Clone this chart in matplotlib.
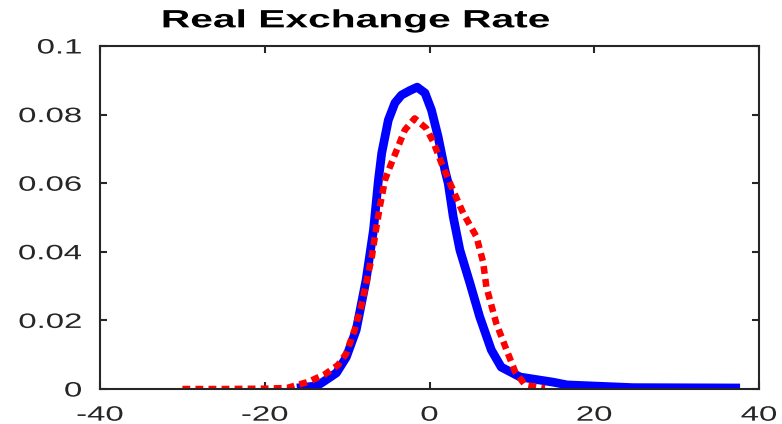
import numpy as np
import matplotlib.pyplot as plt
from matplotlib.patheffects import AbstractPathEffect
from matplotlib.transforms import Affine2D

# kernel density estimates, x in percent
blue_x = [-16.1, -13.7, -12.9, -11.3, -10.1, -8.9, -7.7, -6.8, -6.2, -5.8, -5.0,
          -4.2, -3.4, -2.4, -1.5, -0.55, 0.24, 1.05, 1.87, 2.27, 2.88, 3.69, 4.9,
          6.1, 7.5, 8.7, 11.0, 15.0, 16.7, 24.7, 37.7]
blue_y = [0.0003, 0.0009, 0.0021, 0.0047, 0.0093, 0.0172, 0.0318, 0.0464, 0.061, 0.0688, 0.0784,
          0.0834, 0.0857, 0.087, 0.088, 0.0863, 0.0813, 0.0735, 0.0638, 0.060, 0.0502, 0.0405, 0.0309,
          0.021, 0.0114, 0.0064, 0.0035, 0.002, 0.0012, 0.0004, 0.0003]

red_x = [-30.0, -25.0, -20.0, -17.3, -14.7, -12.7, -11.1, -10.1, -9.1, -8.3, -7.6,
         -7.0, -6.5, -6.0, -5.4, -4.8, -3.0, -1.8, -0.4, 0.45, 1.46, 2.67, 4.1,
         5.7, 6.5, 6.9, 8.1, 9.35, 10.4, 11.6, 14.0]
red_y = [0.0, 0.0, 0.0001, 0.0003, 0.0021, 0.0043, 0.007, 0.0104, 0.0172, 0.024, 0.0318,
         0.0386, 0.0464, 0.0536, 0.061, 0.0648, 0.0755, 0.0789, 0.076, 0.0721, 0.0658, 0.059, 0.0512,
         0.0444, 0.0371, 0.0298, 0.0192, 0.0114, 0.005, 0.0012, 0.0002]

xticks = [-40, -20, 0, 20, 40]
yticks = [0, 0.02, 0.04, 0.06, 0.08, 0.1]
ytick_labels = ['0', '0.02', '0.04', '0.06', '0.08', '0.1']


class HStretch(AbstractPathEffect):
    """Widen glyphs horizontally about the text's centre or right edge."""

    def __init__(self, sx, anchor='center'):
        super().__init__()
        self.sx = sx
        self.anchor = anchor

    def draw_path(self, renderer, gc, tpath, affine, rgbFace=None):
        ext = tpath.get_extents(affine)
        x0 = ext.x1 if self.anchor == 'right' else 0.5 * (ext.x0 + ext.x1)
        t = affine + Affine2D().translate(-x0, 0).scale(self.sx, 1).translate(x0, 0)
        renderer.draw_path(gc, tpath, t, rgbFace)


plt.rcParams['font.family'] = ['Liberation Sans', 'DejaVu Sans']
plt.rcParams['axes.unicode_minus'] = False

fig = plt.figure(figsize=(7.82, 4.24), dpi=100)
ax = fig.add_axes([0.1279, 0.0825, 0.8427, 0.809])

ax.plot(blue_x, blue_y, color='#0000ff', lw=6.3, solid_capstyle='butt', solid_joinstyle='round')
ax.plot(red_x, red_y, color='#ff0000', lw=4.7, linestyle=(0, (1.2, 0.8)), dash_capstyle='butt')

ax.set_xlim(-40, 40)
ax.set_ylim(0, 0.1)
ax.set_xticks(xticks)
ax.set_yticks(yticks)
ax.set_yticklabels(ytick_labels)

for s in ax.spines.values():
    s.set_linewidth(1.5)
    s.set_color('#262626')
ax.tick_params(direction='in', length=5, width=1.5, color='#262626',
               top=True, right=True, labelsize=15, labelcolor='#262626')
ax.tick_params(axis='y', pad=13)
ax.tick_params(axis='x', pad=12)

for lab in ax.get_xticklabels():
    lab.set_path_effects([HStretch(1.58, 'center')])
for lab in ax.get_yticklabels():
    lab.set_path_effects([HStretch(1.58, 'right')])

title = fig.text(0.455, 0.952, 'Real Exchange Rate', ha='center', va='center',
                 fontsize=18, fontweight='bold')
title.set_path_effects([HStretch(1.63, 'center')])

fig.savefig('out.png', dpi=100)
